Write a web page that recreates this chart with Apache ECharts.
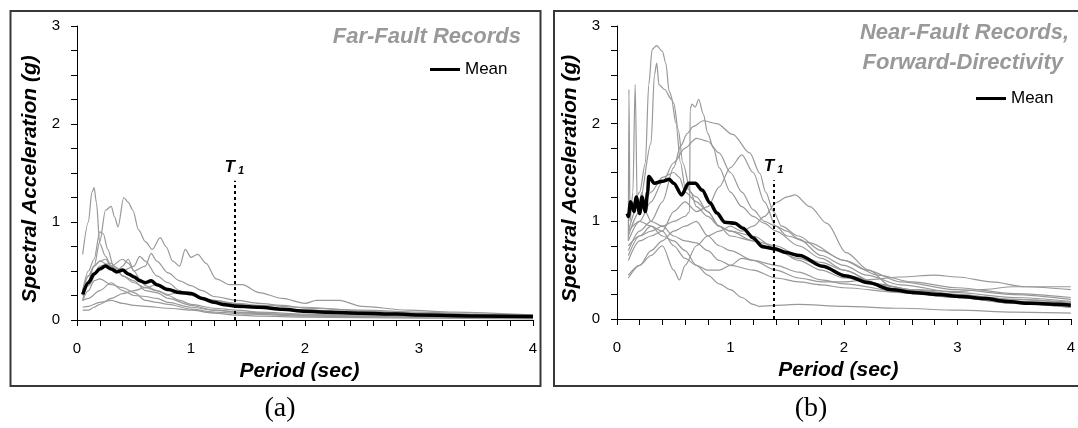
<!DOCTYPE html>
<html><head><meta charset="utf-8">
<script src="https://cdn.jsdelivr.net/npm/echarts@6/dist/echarts.min.js"></script>
<style>html,body{margin:0;padding:0;background:#fff}#c{width:1078px;height:428px}</style>
</head><body><div id="c"></div><script>
// ---------- DATA ----------
const periodLabels = [0, 1, 2, 3, 4];
const accelLabels = [0, 1, 2, 3];
const farTitle = 'Far-Fault Records';
const nearTitleLines = ['Near-Fault Records,', 'Forward-Directivity'];
const panelTags = ['(a)', '(b)'];
const t1Period = 1.38;
const t1Top = 1.42;

// Far-fault records (period sec, Sa g)
const farA = [[0.05,0.67],[0.1,1.0],[0.13,1.3],[0.15,1.35],[0.17,1.2],[0.2,0.78],[0.25,0.65],[0.3,0.55],[0.35,0.5],[0.4,0.45],[0.5,0.4],[0.6,0.3],[0.7,0.28],[0.8,0.22],[1.0,0.15],[1.2,0.1],[1.5,0.07],[2,0.05],[2.5,0.04],[3,0.03],[4,0.02]];
const farB = [[0.05,0.3],[0.1,0.45],[0.15,0.55],[0.2,0.8],[0.25,1.12],[0.3,1.16],[0.33,1.05],[0.36,0.95],[0.41,1.25],[0.45,1.2],[0.49,1.12],[0.54,0.92],[0.6,0.8],[0.66,0.72],[0.73,0.84],[0.78,0.75],[0.84,0.6],[0.9,0.55],[0.95,0.72],[1.0,0.64],[1.06,0.67],[1.13,0.58],[1.22,0.42],[1.34,0.36],[1.45,0.36],[1.6,0.28],[1.8,0.22],[2.0,0.17],[2.1,0.2],[2.3,0.2],[2.5,0.14],[2.9,0.1],[3.3,0.08],[4.0,0.05]];
const farC = [[0.05,0.3],[0.1,0.5],[0.15,0.62],[0.2,0.9],[0.23,0.88],[0.27,0.72],[0.32,0.55],[0.4,0.5],[0.5,0.55],[0.55,0.65],[0.6,0.6],[0.7,0.45],[0.8,0.38],[0.9,0.3],[1.0,0.25],[1.2,0.2],[1.4,0.16],[1.6,0.13],[2,0.1],[2.5,0.08],[3,0.05],[4,0.03]];
const farD = [[0.05,0.2],[0.1,0.4],[0.15,0.55],[0.2,0.6],[0.3,0.55],[0.4,0.62],[0.45,0.58],[0.5,0.5],[0.6,0.55],[0.65,0.68],[0.7,0.6],[0.8,0.48],[0.9,0.4],[1.0,0.35],[1.1,0.3],[1.2,0.24],[1.4,0.2],[1.6,0.17],[1.8,0.15],[2,0.12],[2.5,0.1],[3,0.08],[3.5,0.06],[4,0.05]];
const farE = [[0.05,0.25],[0.1,0.35],[0.2,0.55],[0.3,0.58],[0.35,0.52],[0.4,0.45],[0.5,0.38],[0.6,0.33],[0.7,0.3],[0.8,0.26],[0.9,0.28],[1.0,0.26],[1.1,0.22],[1.2,0.18],[1.4,0.15],[1.6,0.13],[2,0.1],[2.5,0.07],[3,0.05],[4,0.03]];
const farF = [[0.05,0.2],[0.1,0.22],[0.2,0.3],[0.3,0.38],[0.4,0.3],[0.5,0.25],[0.6,0.24],[0.7,0.22],[0.8,0.18],[1.0,0.13],[1.2,0.1],[1.4,0.08],[2,0.05],[3,0.03],[4,0.02]];
const farG = [[0.05,0.1],[0.1,0.1],[0.15,0.13],[0.2,0.16],[0.3,0.22],[0.4,0.27],[0.5,0.3],[0.6,0.33],[0.7,0.36],[0.8,0.31],[0.9,0.27],[1.0,0.26],[1.1,0.22],[1.2,0.2],[1.4,0.17],[1.6,0.15],[2.0,0.13],[2.5,0.09],[3,0.07],[3.5,0.05],[4,0.04]];
const farH = [[0.05,0.13],[0.1,0.14],[0.2,0.18],[0.3,0.2],[0.4,0.17],[0.5,0.15],[0.6,0.14],[0.8,0.12],[1.0,0.1],[1.2,0.07],[1.4,0.05],[1.6,0.04],[2,0.03],[3,0.02],[4,0.01]];
const farI = [[0.05,0.28],[0.1,0.45],[0.15,0.55],[0.2,0.6],[0.25,0.62],[0.3,0.55],[0.35,0.5],[0.4,0.55],[0.45,0.62],[0.5,0.5],[0.55,0.42],[0.6,0.35],[0.7,0.3],[0.8,0.25],[0.9,0.2],[1.0,0.16],[1.2,0.12],[1.4,0.1],[1.6,0.08],[2,0.06],[3,0.04],[4,0.03]];
const farJ = [[0.05,0.2],[0.1,0.3],[0.15,0.4],[0.2,0.42],[0.3,0.36],[0.4,0.33],[0.5,0.28],[0.6,0.2],[0.7,0.18],[0.8,0.16],[1.0,0.11],[1.2,0.08],[1.5,0.06],[2,0.04],[3,0.03],[4,0.02]];
const farMean = [[0.05,0.26],[0.1,0.38],[0.15,0.47],[0.2,0.52],[0.25,0.55],[0.3,0.52],[0.35,0.49],[0.4,0.51],[0.45,0.47],[0.5,0.44],[0.55,0.4],[0.6,0.38],[0.65,0.4],[0.7,0.36],[0.8,0.31],[0.9,0.28],[1.0,0.27],[1.1,0.22],[1.2,0.18],[1.3,0.155],[1.4,0.14],[1.6,0.13],[1.8,0.11],[2.0,0.09],[2.2,0.08],[2.5,0.07],[2.8,0.06],[3.0,0.05],[3.5,0.04],[4.0,0.035]];

// Near-fault forward-directivity records
const nearA = [[0.1,1.0],[0.15,1.2],[0.2,1.3],[0.25,1.6],[0.28,2.4],[0.31,2.76],[0.35,2.8],[0.4,2.74],[0.43,2.62],[0.46,2.33],[0.5,2.21],[0.54,1.94],[0.58,1.6],[0.65,1.3],[0.7,1.15],[0.8,1.05],[0.9,0.95],[1.0,0.9],[1.2,0.85],[1.4,0.72],[1.6,0.6],[1.8,0.5],[2.0,0.42],[2.5,0.3],[3,0.22],[3.5,0.17],[4,0.13]];
const nearB = [[0.1,0.9],[0.2,1.2],[0.3,1.8],[0.33,2.5],[0.35,2.62],[0.37,2.4],[0.42,2.35],[0.48,2.25],[0.52,2.0],[0.56,1.6],[0.6,1.35],[0.7,1.25],[0.8,1.1],[0.9,0.95],[1.0,0.9],[1.2,0.8],[1.4,0.7],[1.6,0.62],[1.8,0.55],[2.0,0.45],[2.5,0.3],[3,0.24],[3.5,0.18],[4,0.15]];
const nearC = [[0.1,0.75],[0.2,0.85],[0.3,0.9],[0.4,0.95],[0.5,1.0],[0.6,1.05],[0.64,1.1],[0.645,2.15],[0.66,2.2],[0.69,2.17],[0.72,2.25],[0.76,2.1],[0.8,1.9],[0.85,1.75],[0.9,1.55],[1.0,1.3],[1.1,1.15],[1.2,1.05],[1.3,0.98],[1.4,0.9],[1.6,0.75],[1.8,0.62],[2.0,0.5],[2.3,0.36],[2.6,0.3],[3,0.25],[3.5,0.2],[4,0.17]];
const nearD = [[0.1,0.7],[0.2,0.9],[0.3,1.0],[0.4,1.2],[0.5,1.55],[0.56,1.77],[0.62,1.9],[0.67,1.97],[0.76,2.03],[0.88,2.0],[1.02,1.89],[1.17,1.7],[1.26,1.49],[1.31,1.3],[1.38,1.1],[1.45,0.95],[1.6,0.85],[1.8,0.7],[2.0,0.6],[2.2,0.5],[2.5,0.38],[3,0.3],[3.5,0.25],[4,0.2]];
const nearE = [[0.1,0.8],[0.2,1.0],[0.3,1.2],[0.4,1.4],[0.5,1.6],[0.6,1.75],[0.7,1.85],[0.8,1.82],[0.9,1.7],[1.0,1.5],[1.1,1.3],[1.2,1.12],[1.3,1.0],[1.4,0.95],[1.5,0.9],[1.6,0.82],[1.8,0.65],[2.0,0.55],[2.2,0.45],[2.5,0.35],[3,0.27],[3.5,0.22],[4,0.18]];
const nearF = [[0.1,0.6],[0.2,0.8],[0.3,0.85],[0.4,0.9],[0.5,1.1],[0.6,1.2],[0.7,1.1],[0.8,1.15],[0.9,1.35],[1.0,1.55],[1.1,1.68],[1.2,1.5],[1.3,1.2],[1.4,0.95],[1.5,0.85],[1.7,0.78],[2.0,0.6],[2.3,0.45],[2.6,0.38],[3,0.32],[3.5,0.26],[4,0.22]];
const nearG = [[0.1,0.8],[0.105,2.35],[0.115,1.0],[0.14,1.3],[0.16,2.4],[0.18,1.1],[0.22,1.3],[0.25,1.1],[0.3,1.0],[0.4,0.95],[0.5,0.85],[0.6,0.8],[0.7,0.78],[0.8,0.7],[0.9,0.6],[1.0,0.55],[1.2,0.5],[1.4,0.42],[1.6,0.38],[1.8,0.35],[2.0,0.32],[2.5,0.27],[3,0.22],[3.5,0.16],[4,0.12]];
const nearH = [[0.1,0.45],[0.2,0.55],[0.3,0.65],[0.4,0.75],[0.5,0.5],[0.55,0.4],[0.6,0.55],[0.7,0.75],[0.8,0.85],[0.9,0.9],[1.0,0.95],[1.1,0.9],[1.2,0.95],[1.3,1.05],[1.4,1.19],[1.5,1.25],[1.57,1.27],[1.7,1.15],[1.85,0.98],[2.02,0.68],[2.22,0.5],[2.42,0.33],[2.6,0.3],[3,0.25],[3.5,0.2],[4,0.16]];
const nearI = [[0.1,0.9],[0.2,1.0],[0.3,0.95],[0.4,0.85],[0.5,0.8],[0.6,0.7],[0.7,0.55],[0.8,0.45],[0.9,0.36],[1.0,0.3],[1.1,0.22],[1.2,0.15],[1.25,0.13],[1.4,0.14],[1.6,0.15],[2.0,0.13],[2.5,0.11],[3,0.09],[3.5,0.07],[4,0.06]];
const nearJ = [[0.1,0.65],[0.2,0.85],[0.3,0.95],[0.4,0.9],[0.5,0.75],[0.6,0.62],[0.7,0.55],[0.8,0.5],[0.9,0.5],[1.0,0.55],[1.1,0.62],[1.2,0.6],[1.4,0.5],[1.6,0.42],[1.8,0.38],[2.0,0.38],[2.2,0.4],[2.5,0.43],[2.8,0.45],[3.0,0.43],[3.3,0.38],[3.6,0.33],[4,0.3]];
const nearK = [[0.1,0.85],[0.2,1.1],[0.3,1.3],[0.4,1.45],[0.5,1.5],[0.55,1.45],[0.6,1.3],[0.7,1.2],[0.8,1.1],[0.9,0.95],[1.0,0.85],[1.2,0.8],[1.4,0.75],[1.6,0.65],[1.8,0.58],[2.0,0.5],[2.3,0.35],[2.6,0.3],[3.0,0.28],[3.2,0.3],[3.5,0.33],[4.0,0.33]];
const nearL = [[0.1,0.42],[0.2,0.55],[0.3,0.7],[0.4,0.8],[0.5,0.9],[0.6,0.95],[0.7,1.0],[0.8,0.85],[0.9,0.75],[1.0,0.7],[1.2,0.6],[1.4,0.55],[1.6,0.48],[1.8,0.4],[2.0,0.36],[2.5,0.28],[3,0.22],[3.5,0.16],[4,0.12]];
const nearMean = [[0.09,1.08],[0.1,1.05],[0.12,1.2],[0.15,1.1],[0.17,1.25],[0.2,1.08],[0.22,1.25],[0.25,1.1],[0.27,1.3],[0.28,1.46],[0.33,1.39],[0.4,1.41],[0.46,1.43],[0.5,1.39],[0.57,1.27],[0.63,1.39],[0.69,1.39],[0.75,1.32],[0.82,1.19],[0.88,1.085],[0.95,0.99],[1.04,0.98],[1.11,0.93],[1.2,0.83],[1.28,0.74],[1.39,0.72],[1.49,0.68],[1.61,0.65],[1.81,0.54],[2.02,0.44],[2.22,0.37],[2.42,0.3],[2.63,0.27],[2.83,0.25],[3.03,0.23],[3.24,0.21],[3.44,0.18],[3.64,0.16],[3.88,0.15],[4.0,0.14]];

const farRecords = [farA, farB, farC, farD, farE, farF, farG, farH, farI, farJ];
const nearRecords = [nearA, nearB, nearC, nearD, nearE, nearF, nearG, nearH, nearI, nearJ, nearK, nearL];

// ---------- CHART ----------
const FONT = "'Liberation Sans', Arial, Helvetica, sans-serif";
const chart = echarts.init(document.getElementById('c'), null, {renderer: 'canvas'});

function isLabel(v, list) { return list.some(l => Math.abs(v - l) < 1e-6); }

const tickRich = {n: {fontFamily: FONT, fontSize: 15, fontWeight: 'normal', color: '#000', lineHeight: 17}};

function xAxis(gi) {
  return {
    type: 'value', gridIndex: gi, min: 0, max: 4, interval: 0.2,
    name: 'Period (sec)', nameLocation: 'middle', nameGap: 36,
    nameTextStyle: {fontFamily: FONT, fontSize: 21, fontWeight: 'bold', fontStyle: 'italic', color: '#000', padding: [0, 11, 0, 0]},
    axisLine: {show: true, lineStyle: {color: '#000', width: 1}},
    axisTick: {show: true, inside: false, length: 6, lineStyle: {color: '#000'}},
    axisLabel: {show: true, margin: 20, fontSize: 15, color: '#000', hideOverlap: false, rich: tickRich,
      formatter: v => isLabel(v, periodLabels) ? '{n|' + Math.round(v) + '}' : ''},
    splitLine: {show: false}
  };
}
function yAxis(gi) {
  return {
    type: 'value', gridIndex: gi, min: 0, max: 3, interval: 0.25,
    name: 'Spectral Acceleration (g)', nameLocation: 'middle', nameGap: 36,
    nameTextStyle: {fontFamily: FONT, fontSize: 21, fontWeight: 'bold', fontStyle: 'italic', color: '#000', padding: [0, 12, 0, 0]},
    axisLine: {show: true, lineStyle: {color: '#000', width: 1}},
    axisTick: {show: true, inside: false, length: 6, lineStyle: {color: '#000'}},
    axisLabel: {show: true, margin: 17, fontSize: 15, color: '#000', hideOverlap: false, rich: tickRich,
      formatter: v => isLabel(v, accelLabels) ? '{n|' + Math.round(v) + '}' : ''},
    splitLine: {show: false}
  };
}

function graySeries(data, gi) {
  return {type: 'line', xAxisIndex: gi, yAxisIndex: gi, data: data, showSymbol: false,
    symbol: 'none', smooth: 0.3, smoothMonotone: 'x', silent: true, z: 2,
    lineStyle: {color: '#999', width: 1.2}, legendHoverLink: false};
}
function meanSeries(data, gi) {
  return {type: 'line', name: 'Mean', xAxisIndex: gi, yAxisIndex: gi, data: data, showSymbol: false,
    symbol: 'none', smooth: 0.3, smoothMonotone: 'x', silent: true, z: 3,
    lineStyle: {color: '#000', width: 3.5}, itemStyle: {color: '#000'},
    markLine: {
      silent: true, symbol: 'none', animation: false,
      lineStyle: {color: '#000', type: [3, 3], width: 2},
      label: {show: true, position: 'end', distance: 4, formatter: '{t|T}{s|1}',
        rich: {
          t: {fontFamily: FONT, fontSize: 17, fontWeight: 'bold', fontStyle: 'italic', color: '#000', lineHeight: 20},
          s: {fontFamily: FONT, fontSize: 11, fontWeight: 'bold', fontStyle: 'italic', color: '#000', lineHeight: 20, padding: [8, 0, 0, 3]}
        }},
      data: [[{coord: [t1Period, 0]}, {coord: [t1Period, t1Top]}]]
    }};
}

const series = [];
farRecords.forEach(d => series.push(graySeries(d, 0)));
series.push(meanSeries(farMean, 0));
nearRecords.forEach(d => series.push(graySeries(d, 1)));
series.push(meanSeries(nearMean, 1));

const legendCommon = {
  data: ['Mean'], orient: 'horizontal', padding: 0, icon: 'rect', itemWidth: 30, itemHeight: 3,
  selectedMode: false, textStyle: {fontFamily: FONT, fontSize: 17, color: '#000'}
};
const titleStyle = {fontFamily: FONT, fontSize: 22, fontWeight: 'bold', fontStyle: 'italic', color: '#999', lineHeight: 26};

chart.setOption({
  animation: false,
  backgroundColor: '#fff',
  title: [
    {text: farTitle, right: 557, top: 24, padding: 0, textStyle: titleStyle},
    {text: nearTitleLines[0], right: 9, top: 20, padding: 0, textStyle: titleStyle},
    {text: nearTitleLines[1], right: 15, top: 50, padding: 0, textStyle: titleStyle}
  ],
  legend: [
    Object.assign({left: 430, top: 61}, legendCommon),
    Object.assign({left: 976, top: 90}, legendCommon)
  ],
  grid: [
    {left: 77, top: 26, width: 456, height: 294, containLabel: false},
    {left: 617, top: 26, width: 459, height: 293, containLabel: false}
  ],
  xAxis: [xAxis(0), xAxis(1)],
  yAxis: [yAxis(0), yAxis(1)],
  series: series,
  graphic: [
    {type: 'rect', shape: {x: 10.5, y: 11, width: 530, height: 375}, style: {fill: 'none', stroke: '#383838', lineWidth: 2}, silent: true, z: 10},
    {type: 'rect', shape: {x: 554, y: 11, width: 540, height: 375}, style: {fill: 'none', stroke: '#383838', lineWidth: 2}, silent: true, z: 10},
    {type: 'text', x: 280, y: 409, style: {text: panelTags[0], align: 'center', verticalAlign: 'middle', font: "28px 'Liberation Serif', 'Times New Roman', serif", fill: '#000'}, silent: true},
    {type: 'text', x: 811, y: 409, style: {text: panelTags[1], align: 'center', verticalAlign: 'middle', font: "28px 'Liberation Serif', 'Times New Roman', serif", fill: '#000'}, silent: true}
  ]
});
</script></body></html>
